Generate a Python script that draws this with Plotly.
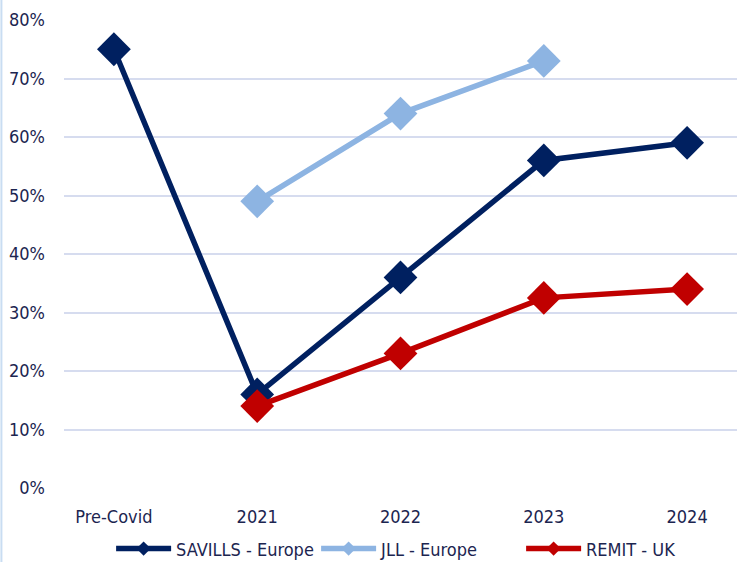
import plotly.graph_objects as go

categories = ["Pre-Covid", "2021", "2022", "2023", "2024"]
savills_europe = [75, 16, 36, 56, 59]
jll_europe = [None, 49, 64, 73, None]
remit_uk = [None, 14, 23, 32.5, 34]
y_ticks = [0, 10, 20, 30, 40, 50, 60, 70, 80]
y_tick_labels = [f"{v}%" for v in y_ticks]

series = [
    ("SAVILLS - Europe", savills_europe, "#002060"),
    ("JLL - Europe", jll_europe, "#8DB4E2"),
    ("REMIT - UK", remit_uk, "#C00000"),
]

FONT = "DejaVu Sans Condensed, Liberation Sans Narrow, sans-serif"
TEXT = "#1C2550"

fig = go.Figure()
for name, vals, color in series:
    fig.add_trace(go.Scatter(
        x=categories, y=vals, name=name, mode="lines+markers",
        line=dict(color=color, width=5.5),
        marker=dict(symbol="diamond", size=26, color=color),
        connectgaps=False, legendgroup=name, showlegend=False,
    ))
# legend entries with a smaller diamond on the line sample
for name, vals, color in series:
    fig.add_trace(go.Scatter(
        x=[None], y=[None], name=name, mode="lines+markers",
        line=dict(color=color, width=5.5),
        marker=dict(symbol="diamond", size=11, color=color),
        legendgroup=name, showlegend=True,
    ))

fig.update_layout(
    width=740, height=562,
    margin=dict(l=64, r=3, t=20, b=74, autoexpand=False),
    paper_bgcolor="white", plot_bgcolor="white",
    font=dict(family=FONT, color=TEXT, size=18),
    showlegend=True,
    legend=dict(orientation="h", x=0.07, xanchor="left", y=-0.13, yanchor="middle",
                font=dict(size=18, color=TEXT), itemwidth=55,
                entrywidth=135, traceorder="normal"),
    xaxis=dict(showgrid=False, showline=False, zeroline=False,
               tickfont=dict(size=18, color=TEXT), ticklabelstandoff=16),
    yaxis=dict(range=[0, 80], tickvals=y_ticks, ticktext=y_tick_labels,
               showgrid=True, gridcolor="#D6DCEF", gridwidth=2,
               zeroline=False, showline=False,
               tickfont=dict(size=18, color=TEXT), ticklabelstandoff=18),
    shapes=[dict(type="line", xref="paper", yref="paper",
                 x0=-0.093, x1=-0.093, y0=-1, y1=2,
                 line=dict(color="#C9DDF2", width=2))],
)

fig.write_html("out.html")
